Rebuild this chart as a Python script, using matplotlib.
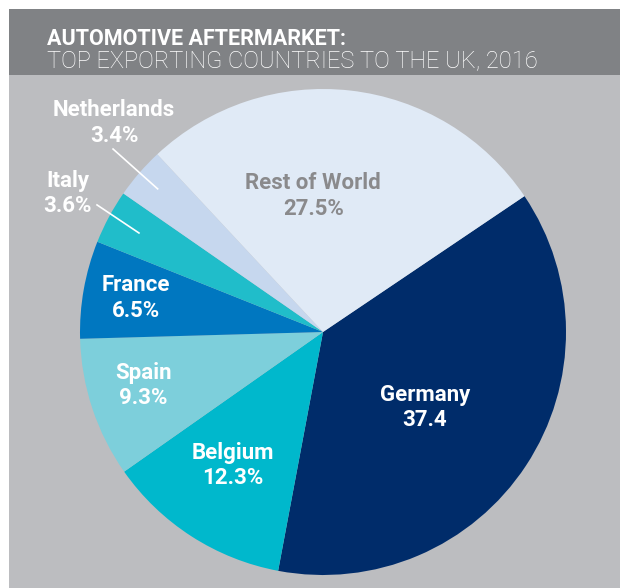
import matplotlib
matplotlib.use('Agg')
import numpy as np
import matplotlib.pyplot as plt
from matplotlib import font_manager as fm
from matplotlib.patches import Rectangle

# data
countries = ['Germany', 'Belgium', 'Spain', 'France', 'Italy', 'Netherlands', 'Rest of World']
shares = [37.4, 12.3, 9.3, 6.5, 3.6, 3.4, 27.5]
share_labels = ['37.4', '12.3%', '9.3%', '6.5%', '3.6%', '3.4%', '27.5%']

# colours
col_slices = ['#002c6a', '#00b8cc', '#7dcfdb', '#0077c0', '#20bdca', '#c6d7ee', '#e0eaf6']
col_text = ['white', 'white', 'white', 'white', 'white', 'white', '#8a8a8c']
col_bg = '#bcbdc0'
col_bar = '#808285'

names = set(f.name for f in fm.fontManager.ttflist)
font = 'Liberation Sans Narrow' if 'Liberation Sans Narrow' in names else 'Roboto'
plt.rcParams['font.family'] = [font, 'DejaVu Sans']

W, H = 620, 588
fig = plt.figure(figsize=(W / 100, H / 100), dpi=100)
fig.patch.set_facecolor('white')

# background panels (pixel -> figure fraction)
fig.patches.append(Rectangle((9 / W, 0), 1 - 9 / W, (H - 9) / H, transform=fig.transFigure,
                             facecolor=col_bg, edgecolor='none', zorder=-2))
fig.patches.append(Rectangle((9 / W, (H - 75) / H), 1 - 9 / W, 66 / H, transform=fig.transFigure,
                             facecolor=col_bar, edgecolor='none', zorder=-1))

fig.text(47 / W, (H - 45) / H, 'AUTOMOTIVE AFTERMARKET:', color='white', fontsize=15.5,
         fontweight='bold', va='baseline', ha='left')
fig.text(47 / W, (H - 68) / H, 'TOP EXPORTING COUNTRIES TO THE UK, 2016', color='white',
         fontsize=17, fontweight='light', va='baseline', ha='left')

# pie axes: centre (323, 332), radius 243 px
cx, cy, r = 323, 332, 243
ax = fig.add_axes([(cx - r) / W, (H - cy - r) / H, 2 * r / W, 2 * r / H], zorder=2)
ax.set_facecolor('none')
wedges, _ = ax.pie(shares, colors=col_slices, startangle=34, counterclock=False,
                   wedgeprops=dict(linewidth=0))
ax.set_xlim(-1, 1)
ax.set_ylim(-1, 1)
ax.axis('off')

# label positions (in pie radius units)
label_pos = [(0.42, -0.31), (-0.37, -0.55), (-0.74, -0.22), (-0.77, 0.14),
             (-1.05, 0.57), (-0.86, 0.86), (-0.04, 0.56)]
for name, lab, (x, y), c in zip(countries, share_labels, label_pos, col_text):
    ax.text(x, y, name + '\n' + lab, ha='center', va='center', color=c, fontsize=16,
            fontweight='bold', linespacing=1.2, clip_on=False)

# leader lines for the two small outside-labelled slices
leaders = {'Italy': ((-0.93, 0.523), 0.86), 'Netherlands': ((-0.864, 0.753), 0.90)}
for w, name in zip(wedges, countries):
    if name in leaders:
        (x0, y0), rr = leaders[name]
        a = np.deg2rad((w.theta1 + w.theta2) / 2)
        ax.plot([x0, rr * np.cos(a)], [y0, rr * np.sin(a)], color='white', lw=1.2,
                clip_on=False)

fig.savefig('out.png', dpi=100, facecolor=fig.get_facecolor())
